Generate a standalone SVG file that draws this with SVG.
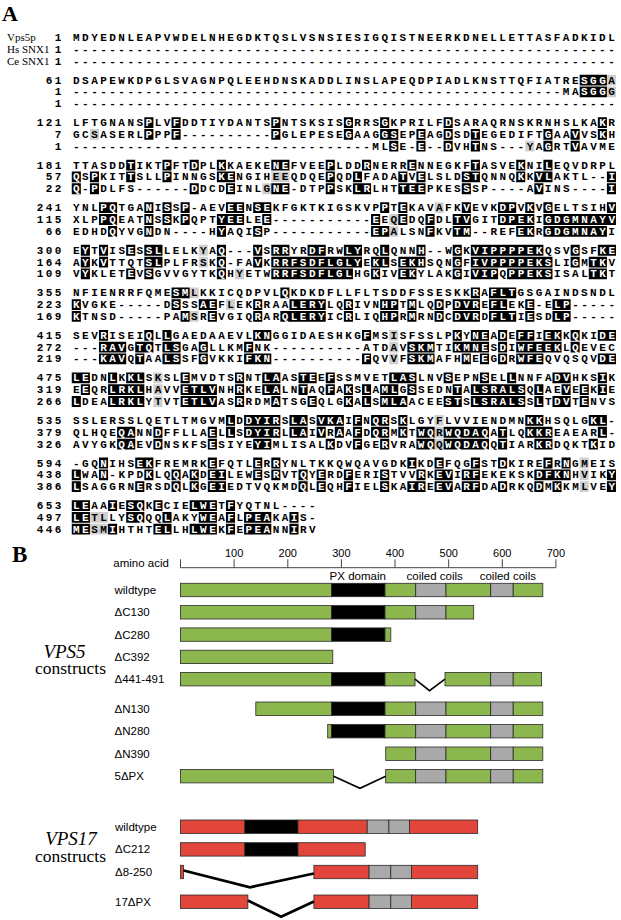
<svg xmlns="http://www.w3.org/2000/svg" width="621" height="920" viewBox="0 0 621 920">
<style>
.s{font-family:"Liberation Mono","DejaVu Sans Mono",monospace;font-weight:bold;font-size:11px;letter-spacing:2.47px;fill:#000}
.w{fill:#fff}
.bs{fill:#000}
.gs{fill:#cfcfcf}
.lb{font-family:"Liberation Serif",serif;font-size:11px;fill:#000}
.big{font-family:"Liberation Serif",serif;font-weight:bold;fill:#000}
.sa{font-family:"Liberation Sans",Arial,sans-serif;font-size:11.5px;fill:#000}
.tk{font-family:"Liberation Sans",Arial,sans-serif;font-size:11px;fill:#000;text-anchor:middle}
.it{font-family:"Liberation Serif",serif;font-style:italic;font-size:19px;text-anchor:middle}
.cn{font-family:"Liberation Serif",serif;font-size:17.5px;text-anchor:middle}
.g{fill:#8cb64e;stroke:#2a2a2a;stroke-width:0.8}
.r{fill:#e2453a;stroke:#2a2a2a;stroke-width:0.8}
.k{fill:#000;stroke:#2a2a2a;stroke-width:0.8}
.y{fill:#a9a9a9;stroke:#2a2a2a;stroke-width:0.8}
.del{fill:none;stroke:#000;stroke-width:1.6}
.del2{fill:none;stroke:#000;stroke-width:2.8}
.rl{stroke:#444;stroke-width:1;fill:none}
</style>
<rect width="621" height="920" fill="#fff"/>
<g id="panelA">
<text class="big" x="2" y="21" font-size="22">A</text>
<g id="blk1" transform="translate(0,41)">
<text class="lb" x="7" y="0">Vps5p</text>
<text class="lb" x="7" y="11.8">Hs SNX1</text>
<text class="lb" x="7" y="23.6">Ce SNX1</text>
<text class="s" x="54.86" y="0">1</text><text class="s" x="54.86" y="11.8">1</text><text class="s" x="54.86" y="23.6">1</text>
<text class="s" x="73" y="0">MDYEDNLEAPVWDELNHEGDKTQSLVSNSIESIGQISTNEERKDNELLETTASFADKIDL</text>
<text class="s" x="73" y="11.8">------------------------------------------------------------</text>
<text class="s" x="73" y="23.6">------------------------------------------------------------</text>
</g>
<g id="blk61" transform="translate(0,83.55)">
<path class="gs" transform="matrix(9.07 0 0 1 71.77 0)" d="M59 -8.9h1v10.8h-1zM59 2.9h1v10.8h-1z"/>
<path class="bs" transform="matrix(9.07 0 0 1 71.77 0)" d="M56 -8.9h3v10.8h-3zM56 2.9h3v10.8h-3z"/>
<text class="s" x="45.79" y="0">61</text><text class="s" x="54.86" y="11.8">1</text><text class="s" x="54.86" y="23.6">1</text>
<text class="s" x="73" y="0">DSAPEWKDPGLSVAGNPQLEEHDNSKADDLINSLAPEQDPIADLKNSTTQFIATRE<tspan class="w">SGG</tspan>A</text>
<text class="s" x="73" y="11.8">------------------------------------------------------MA<tspan class="w">SGG</tspan>G</text>
<text class="s" x="73" y="23.6">------------------------------------------------------------</text>
</g>
<g id="blk121" transform="translate(0,126.1)">
<path class="gs" transform="matrix(9.07 0 0 1 71.77 0)" d="M2 2.9h1v10.8h-1zM50 14.7h1v10.8h-1z"/>
<path class="bs" transform="matrix(9.07 0 0 1 71.77 0)" d="M8 -8.9h1v10.8h-1zM11 -8.9h1v10.8h-1zM22 -8.9h1v10.8h-1zM30 -8.9h1v10.8h-1zM34 -8.9h1v10.8h-1zM41 -8.9h1v10.8h-1zM58 -8.9h1v10.8h-1zM8 2.9h1v10.8h-1zM11 2.9h1v10.8h-1zM22 2.9h1v10.8h-1zM30 2.9h1v10.8h-1zM34 2.9h2v10.8h-2zM38 2.9h1v10.8h-1zM41 2.9h1v10.8h-1zM44 2.9h1v10.8h-1zM52 2.9h1v10.8h-1zM55 2.9h1v10.8h-1zM58 2.9h1v10.8h-1zM35 14.7h1v10.8h-1zM38 14.7h1v10.8h-1zM41 14.7h1v10.8h-1zM44 14.7h1v10.8h-1zM52 14.7h1v10.8h-1zM55 14.7h1v10.8h-1z"/>
<text class="s" x="36.72" y="0">121</text><text class="s" x="54.86" y="11.8">7</text><text class="s" x="54.86" y="23.6">1</text>
<text class="s" x="73" y="0">LFTGNANS<tspan class="w">P</tspan>LV<tspan class="w">F</tspan>DDTIYDANTS<tspan class="w">P</tspan>NTSKSIS<tspan class="w">G</tspan>RRS<tspan class="w">G</tspan>KPRILF<tspan class="w">D</tspan>SARAQRNSKRNHSLKA<tspan class="w">K</tspan>R</text>
<text class="s" x="73" y="11.8">GCSASERL<tspan class="w">P</tspan>PP<tspan class="w">F</tspan>----------<tspan class="w">P</tspan>GLEPESE<tspan class="w">G</tspan>AAG<tspan class="w">GS</tspan>EP<tspan class="w">E</tspan>AG<tspan class="w">D</tspan>SD<tspan class="w">T</tspan>EGEDIFT<tspan class="w">G</tspan>AA<tspan class="w">V</tspan>VS<tspan class="w">K</tspan>H</text>
<text class="s" x="73" y="23.6">---------------------------------ML<tspan class="w">S</tspan>E-<tspan class="w">E</tspan>--<tspan class="w">D</tspan>VH<tspan class="w">T</tspan>NS---YA<tspan class="w">G</tspan>RT<tspan class="w">V</tspan>AVME</text>
</g>
<g id="blk181" transform="translate(0,168.65)">
<path class="gs" transform="matrix(9.07 0 0 1 71.77 0)" d="M22 2.9h2v10.8h-2zM21 14.7h1v10.8h-1z"/>
<path class="bs" transform="matrix(9.07 0 0 1 71.77 0)" d="M6 -8.9h1v10.8h-1zM10 -8.9h1v10.8h-1zM13 -8.9h1v10.8h-1zM16 -8.9h1v10.8h-1zM22 -8.9h2v10.8h-2zM28 -8.9h1v10.8h-1zM32 -8.9h1v10.8h-1zM37 -8.9h1v10.8h-1zM44 -8.9h1v10.8h-1zM49 -8.9h1v10.8h-1zM52 -8.9h1v10.8h-1zM0 2.9h1v10.8h-1zM2 2.9h1v10.8h-1zM6 2.9h1v10.8h-1zM10 2.9h1v10.8h-1zM16 2.9h2v10.8h-2zM28 2.9h1v10.8h-1zM31 2.9h1v10.8h-1zM36 2.9h1v10.8h-1zM38 2.9h1v10.8h-1zM43 2.9h2v10.8h-2zM49 2.9h1v10.8h-1zM51 2.9h2v10.8h-2zM59 2.9h1v10.8h-1zM0 14.7h1v10.8h-1zM2 14.7h1v10.8h-1zM13 14.7h1v10.8h-1zM17 14.7h1v10.8h-1zM22 14.7h2v10.8h-2zM28 14.7h1v10.8h-1zM31 14.7h2v10.8h-2zM36 14.7h3v10.8h-3zM43 14.7h1v10.8h-1zM51 14.7h1v10.8h-1zM59 14.7h1v10.8h-1z"/>
<text class="s" x="36.72" y="0">181</text><text class="s" x="45.79" y="11.8">57</text><text class="s" x="45.79" y="23.6">22</text>
<text class="s" x="73" y="0">TTASDD<tspan class="w">T</tspan>IKT<tspan class="w">P</tspan>FT<tspan class="w">D</tspan>PL<tspan class="w">K</tspan>KAEKE<tspan class="w">NE</tspan>FVEE<tspan class="w">P</tspan>LDD<tspan class="w">R</tspan>NERR<tspan class="w">E</tspan>NNEGKF<tspan class="w">T</tspan>ASVE<tspan class="w">K</tspan>NI<tspan class="w">L</tspan>EQVDRPL</text>
<text class="s" x="73" y="11.8"><tspan class="w">Q</tspan>S<tspan class="w">P</tspan>KIT<tspan class="w">T</tspan>SLL<tspan class="w">P</tspan>INNGS<tspan class="w">KE</tspan>NGIHEEQDQE<tspan class="w">P</tspan>QD<tspan class="w">L</tspan>FADA<tspan class="w">T</tspan>V<tspan class="w">E</tspan>LSLD<tspan class="w">ST</tspan>QNNQ<tspan class="w">K</tspan>K<tspan class="w">VL</tspan>AKTL--<tspan class="w">I</tspan></text>
<text class="s" x="73" y="23.6"><tspan class="w">Q</tspan>-<tspan class="w">P</tspan>DLFS------<tspan class="w">D</tspan>DCD<tspan class="w">E</tspan>INLG<tspan class="w">NE</tspan>-DTP<tspan class="w">P</tspan>SK<tspan class="w">LR</tspan>LHT<tspan class="w">TEE</tspan>PKES<tspan class="w">S</tspan>SP----A<tspan class="w">V</tspan>INS----<tspan class="w">I</tspan></text>
</g>
<g id="blk241" transform="translate(0,211.2)">
<path class="gs" transform="matrix(9.07 0 0 1 71.77 0)" d="M40 -8.9h1v10.8h-1zM35 2.9h1v10.8h-1zM35 14.7h1v10.8h-1z"/>
<path class="bs" transform="matrix(9.07 0 0 1 71.77 0)" d="M3 -8.9h2v10.8h-2zM8 -8.9h1v10.8h-1zM10 -8.9h1v10.8h-1zM12 -8.9h1v10.8h-1zM17 -8.9h2v10.8h-2zM20 -8.9h2v10.8h-2zM34 -8.9h1v10.8h-1zM36 -8.9h1v10.8h-1zM43 -8.9h1v10.8h-1zM47 -8.9h2v10.8h-2zM50 -8.9h1v10.8h-1zM52 -8.9h1v10.8h-1zM59 -8.9h1v10.8h-1zM3 2.9h2v10.8h-2zM8 2.9h1v10.8h-1zM10 2.9h1v10.8h-1zM12 2.9h1v10.8h-1zM16 2.9h3v10.8h-3zM21 2.9h1v10.8h-1zM33 2.9h1v10.8h-1zM36 2.9h1v10.8h-1zM39 2.9h1v10.8h-1zM42 2.9h2v10.8h-2zM47 2.9h4v10.8h-4zM52 2.9h8v10.8h-8zM4 14.7h1v10.8h-1zM8 14.7h1v10.8h-1zM16 14.7h1v10.8h-1zM20 14.7h1v10.8h-1zM33 14.7h2v10.8h-2zM39 14.7h1v10.8h-1zM42 14.7h2v10.8h-2zM49 14.7h2v10.8h-2zM52 14.7h7v10.8h-7z"/>
<text class="s" x="36.72" y="0">241</text><text class="s" x="36.72" y="11.8">115</text><text class="s" x="45.79" y="23.6">66</text>
<text class="s" x="73" y="0">YNL<tspan class="w">PQ</tspan>TGA<tspan class="w">N</tspan>I<tspan class="w">S</tspan>S<tspan class="w">P</tspan>-AEV<tspan class="w">EE</tspan>N<tspan class="w">SE</tspan>KFGKTKIGSKVP<tspan class="w">P</tspan>T<tspan class="w">E</tspan>KAVAFK<tspan class="w">V</tspan>EVK<tspan class="w">DP</tspan>V<tspan class="w">K</tspan>V<tspan class="w">G</tspan>ELTSIH<tspan class="w">V</tspan></text>
<text class="s" x="73" y="11.8">XLP<tspan class="w">PQ</tspan>EAT<tspan class="w">N</tspan>S<tspan class="w">S</tspan>K<tspan class="w">P</tspan>QPT<tspan class="w">YEE</tspan>LE<tspan class="w">E</tspan>-----------<tspan class="w">E</tspan>EQ<tspan class="w">E</tspan>DQ<tspan class="w">F</tspan>DL<tspan class="w">TV</tspan>GIT<tspan class="w">DPEK</tspan>I<tspan class="w">GDGMNAYV</tspan></text>
<text class="s" x="73" y="23.6">EDHD<tspan class="w">Q</tspan>YVG<tspan class="w">N</tspan>DN----H<tspan class="w">Y</tspan>AQI<tspan class="w">S</tspan>P-----------<tspan class="w">EP</tspan>ALSN<tspan class="w">F</tspan>KV<tspan class="w">TM</tspan>--REF<tspan class="w">EK</tspan>R<tspan class="w">GDGMNAY</tspan>I</text>
</g>
<g id="blk300" transform="translate(0,253.75)">
<path class="gs" transform="matrix(9.07 0 0 1 71.77 0)" d="M14 -8.9h1v10.8h-1zM14 2.9h1v10.8h-1zM18 14.7h1v10.8h-1z"/>
<path class="bs" transform="matrix(9.07 0 0 1 71.77 0)" d="M1 -8.9h1v10.8h-1zM3 -8.9h1v10.8h-1zM6 -8.9h1v10.8h-1zM8 -8.9h2v10.8h-2zM16 -8.9h1v10.8h-1zM20 -8.9h1v10.8h-1zM22 -8.9h2v10.8h-2zM26 -8.9h2v10.8h-2zM30 -8.9h2v10.8h-2zM34 -8.9h1v10.8h-1zM38 -8.9h1v10.8h-1zM42 -8.9h1v10.8h-1zM44 -8.9h8v10.8h-8zM55 -8.9h1v10.8h-1zM58 -8.9h2v10.8h-2zM1 2.9h1v10.8h-1zM3 2.9h1v10.8h-1zM8 2.9h2v10.8h-2zM16 2.9h1v10.8h-1zM20 2.9h1v10.8h-1zM22 2.9h10v10.8h-10zM33 2.9h2v10.8h-2zM36 2.9h3v10.8h-3zM42 2.9h1v10.8h-1zM44 2.9h9v10.8h-9zM55 2.9h1v10.8h-1zM57 2.9h2v10.8h-2zM1 14.7h1v10.8h-1zM6 14.7h1v10.8h-1zM8 14.7h1v10.8h-1zM16 14.7h1v10.8h-1zM22 14.7h9v10.8h-9zM33 14.7h1v10.8h-1zM36 14.7h2v10.8h-2zM42 14.7h1v10.8h-1zM44 14.7h3v10.8h-3zM48 14.7h5v10.8h-5zM57 14.7h2v10.8h-2z"/>
<text class="s" x="36.72" y="0">300</text><text class="s" x="36.72" y="11.8">164</text><text class="s" x="36.72" y="23.6">109</text>
<text class="s" x="73" y="0">E<tspan class="w">Y</tspan>T<tspan class="w">V</tspan>IS<tspan class="w">E</tspan>S<tspan class="w">SL</tspan>LELKYA<tspan class="w">Q</tspan>---<tspan class="w">V</tspan>S<tspan class="w">RR</tspan>YR<tspan class="w">DF</tspan>RW<tspan class="w">LY</tspan>RQ<tspan class="w">L</tspan>QNN<tspan class="w">H</tspan>--W<tspan class="w">G</tspan>K<tspan class="w">VIPPPPEK</tspan>QSV<tspan class="w">G</tspan>SF<tspan class="w">KE</tspan></text>
<text class="s" x="73" y="11.8">A<tspan class="w">Y</tspan>K<tspan class="w">V</tspan>TTQT<tspan class="w">SL</tspan>PLFRSK<tspan class="w">Q</tspan>-FA<tspan class="w">V</tspan>K<tspan class="w">RRFSDFLGLY</tspan>E<tspan class="w">KL</tspan>S<tspan class="w">EKH</tspan>SQN<tspan class="w">G</tspan>F<tspan class="w">IVPPPPEKS</tspan>LI<tspan class="w">G</tspan>M<tspan class="w">TK</tspan>V</text>
<text class="s" x="73" y="23.6">V<tspan class="w">Y</tspan>KLET<tspan class="w">E</tspan>V<tspan class="w">S</tspan>GVVGYTK<tspan class="w">Q</tspan>HYETW<tspan class="w">RRFSDFLGL</tspan>HG<tspan class="w">K</tspan>IV<tspan class="w">EK</tspan>YLAK<tspan class="w">G</tspan>I<tspan class="w">VIP</tspan>Q<tspan class="w">PPEKS</tspan>ISAL<tspan class="w">TK</tspan>T</text>
</g>
<g id="blk355" transform="translate(0,296.3)">
<path class="gs" transform="matrix(9.07 0 0 1 71.77 0)" d="M13 -8.9h1v10.8h-1zM17 2.9h1v10.8h-1zM13 14.7h1v10.8h-1z"/>
<path class="bs" transform="matrix(9.07 0 0 1 71.77 0)" d="M11 -8.9h2v10.8h-2zM23 -8.9h1v10.8h-1zM44 -8.9h1v10.8h-1zM46 -8.9h3v10.8h-3zM0 2.9h1v10.8h-1zM11 2.9h1v10.8h-1zM14 2.9h2v10.8h-2zM20 2.9h1v10.8h-1zM24 2.9h4v10.8h-4zM30 2.9h1v10.8h-1zM34 2.9h2v10.8h-2zM37 2.9h1v10.8h-1zM40 2.9h1v10.8h-1zM42 2.9h3v10.8h-3zM46 2.9h2v10.8h-2zM50 2.9h1v10.8h-1zM53 2.9h2v10.8h-2zM0 14.7h1v10.8h-1zM12 14.7h1v10.8h-1zM15 14.7h1v10.8h-1zM20 14.7h1v10.8h-1zM23 14.7h5v10.8h-5zM30 14.7h1v10.8h-1zM34 14.7h2v10.8h-2zM37 14.7h1v10.8h-1zM40 14.7h1v10.8h-1zM42 14.7h3v10.8h-3zM46 14.7h3v10.8h-3zM50 14.7h1v10.8h-1zM53 14.7h2v10.8h-2z"/>
<text class="s" x="36.72" y="0">355</text><text class="s" x="36.72" y="11.8">223</text><text class="s" x="36.72" y="23.6">169</text>
<text class="s" x="73" y="0">NFIENRRFQME<tspan class="w">SM</tspan>LKKICQDPVL<tspan class="w">Q</tspan>KDKDFLLFLTSDDFSSESKK<tspan class="w">R</tspan>A<tspan class="w">FLT</tspan>GSGAINDSNDL</text>
<text class="s" x="73" y="11.8"><tspan class="w">K</tspan>VGKE-----D<tspan class="w">S</tspan>SS<tspan class="w">AE</tspan>FLEK<tspan class="w">R</tspan>RAA<tspan class="w">LERY</tspan>LQ<tspan class="w">R</tspan>IVN<tspan class="w">HP</tspan>T<tspan class="w">M</tspan>LQ<tspan class="w">D</tspan>P<tspan class="w">DVR</tspan>E<tspan class="w">FL</tspan>EK<tspan class="w">E</tspan>-E<tspan class="w">LP</tspan>-----</text>
<text class="s" x="73" y="23.6"><tspan class="w">K</tspan>TNSD-----PA<tspan class="w">M</tspan>SR<tspan class="w">E</tspan>VGIQ<tspan class="w">R</tspan>AR<tspan class="w">QLERY</tspan>IC<tspan class="w">R</tspan>LIQ<tspan class="w">HP</tspan>R<tspan class="w">M</tspan>RN<tspan class="w">D</tspan>C<tspan class="w">DVR</tspan>D<tspan class="w">FLT</tspan>I<tspan class="w">E</tspan>SD<tspan class="w">LP</tspan>-----</text>
</g>
<g id="blk415" transform="translate(0,338.85)">
<path class="gs" transform="matrix(9.07 0 0 1 71.77 0)" d="M35 -8.9h1v10.8h-1zM35 2.9h1v10.8h-1zM35 14.7h1v10.8h-1z"/>
<path class="bs" transform="matrix(9.07 0 0 1 71.77 0)" d="M3 -8.9h1v10.8h-1zM8 -8.9h1v10.8h-1zM10 -8.9h1v10.8h-1zM20 -8.9h2v10.8h-2zM32 -8.9h1v10.8h-1zM42 -8.9h1v10.8h-1zM44 -8.9h2v10.8h-2zM47 -8.9h1v10.8h-1zM49 -8.9h2v10.8h-2zM52 -8.9h2v10.8h-2zM55 -8.9h1v10.8h-1zM58 -8.9h2v10.8h-2zM3 2.9h3v10.8h-3zM7 2.9h2v10.8h-2zM10 2.9h2v10.8h-2zM14 2.9h1v10.8h-1zM19 2.9h1v10.8h-1zM37 2.9h3v10.8h-3zM42 2.9h4v10.8h-4zM47 2.9h1v10.8h-1zM49 2.9h5v10.8h-5zM55 2.9h1v10.8h-1zM3 14.7h3v10.8h-3zM7 14.7h1v10.8h-1zM10 14.7h2v10.8h-2zM14 14.7h1v10.8h-1zM19 14.7h3v10.8h-3zM32 14.7h1v10.8h-1zM37 14.7h3v10.8h-3zM43 14.7h1v10.8h-1zM45 14.7h1v10.8h-1zM47 14.7h1v10.8h-1zM49 14.7h3v10.8h-3zM58 14.7h2v10.8h-2z"/>
<text class="s" x="36.72" y="0">415</text><text class="s" x="36.72" y="11.8">272</text><text class="s" x="36.72" y="23.6">219</text>
<text class="s" x="73" y="0">SEV<tspan class="w">R</tspan>ISEI<tspan class="w">Q</tspan>L<tspan class="w">L</tspan>GAEDAAEVL<tspan class="w">KN</tspan>GGIDAESHKG<tspan class="w">F</tspan>MSISFSSLP<tspan class="w">K</tspan>Y<tspan class="w">NE</tspan>A<tspan class="w">D</tspan>E<tspan class="w">FF</tspan>I<tspan class="w">EK</tspan>K<tspan class="w">Q</tspan>KI<tspan class="w">DE</tspan></text>
<text class="s" x="73" y="11.8">---<tspan class="w">RAV</tspan>G<tspan class="w">TQ</tspan>T<tspan class="w">LS</tspan>GA<tspan class="w">G</tspan>LLKM<tspan class="w">F</tspan>NK----------ATDAV<tspan class="w">SKM</tspan>TI<tspan class="w">KMNE</tspan>S<tspan class="w">D</tspan>I<tspan class="w">WFEEK</tspan>L<tspan class="w">Q</tspan>EVEC</text>
<text class="s" x="73" y="23.6">---<tspan class="w">KAV</tspan>Q<tspan class="w">T</tspan>AA<tspan class="w">LS</tspan>SF<tspan class="w">G</tspan>VKKI<tspan class="w">FKN</tspan>----------<tspan class="w">F</tspan>QVVF<tspan class="w">SKM</tspan>AFH<tspan class="w">M</tspan>E<tspan class="w">E</tspan>G<tspan class="w">D</tspan>R<tspan class="w">WFE</tspan>QVQSQV<tspan class="w">DE</tspan></text>
</g>
<g id="blk475" transform="translate(0,381.4)">
<path class="gs" transform="matrix(9.07 0 0 1 71.77 0)" d="M9 -8.9h1v10.8h-1zM9 2.9h1v10.8h-1zM9 14.7h1v10.8h-1z"/>
<path class="bs" transform="matrix(9.07 0 0 1 71.77 0)" d="M0 -8.9h2v10.8h-2zM4 -8.9h1v10.8h-1zM6 -8.9h2v10.8h-2zM12 -8.9h1v10.8h-1zM18 -8.9h1v10.8h-1zM21 -8.9h2v10.8h-2zM25 -8.9h2v10.8h-2zM28 -8.9h1v10.8h-1zM35 -8.9h3v10.8h-3zM41 -8.9h1v10.8h-1zM45 -8.9h1v10.8h-1zM48 -8.9h1v10.8h-1zM53 -8.9h2v10.8h-2zM58 -8.9h1v10.8h-1zM1 2.9h1v10.8h-1zM4 2.9h4v10.8h-4zM12 2.9h4v10.8h-4zM18 2.9h1v10.8h-1zM21 2.9h2v10.8h-2zM25 2.9h1v10.8h-1zM28 2.9h1v10.8h-1zM30 2.9h1v10.8h-1zM32 2.9h1v10.8h-1zM34 2.9h2v10.8h-2zM37 2.9h1v10.8h-1zM42 2.9h1v10.8h-1zM44 2.9h6v10.8h-6zM51 2.9h1v10.8h-1zM54 2.9h1v10.8h-1zM56 2.9h1v10.8h-1zM58 2.9h1v10.8h-1zM0 14.7h1v10.8h-1zM4 14.7h4v10.8h-4zM12 14.7h4v10.8h-4zM18 14.7h1v10.8h-1zM22 14.7h1v10.8h-1zM26 14.7h1v10.8h-1zM30 14.7h1v10.8h-1zM32 14.7h1v10.8h-1zM34 14.7h3v10.8h-3zM41 14.7h2v10.8h-2zM44 14.7h6v10.8h-6zM51 14.7h1v10.8h-1zM53 14.7h2v10.8h-2zM56 14.7h1v10.8h-1z"/>
<text class="s" x="36.72" y="0">475</text><text class="s" x="36.72" y="11.8">319</text><text class="s" x="36.72" y="23.6">266</text>
<text class="s" x="73" y="0"><tspan class="w">LE</tspan>DN<tspan class="w">L</tspan>K<tspan class="w">KL</tspan>SKSL<tspan class="w">E</tspan>MVDTS<tspan class="w">R</tspan>NT<tspan class="w">LA</tspan>AS<tspan class="w">TE</tspan>E<tspan class="w">F</tspan>SSMVET<tspan class="w">LAS</tspan>LNV<tspan class="w">S</tspan>EPN<tspan class="w">S</tspan>EL<tspan class="w">L</tspan>NNFA<tspan class="w">DV</tspan>HKS<tspan class="w">I</tspan>K</text>
<text class="s" x="73" y="11.8">E<tspan class="w">E</tspan>QR<tspan class="w">LRKL</tspan>HAVV<tspan class="w">ETLV</tspan>NH<tspan class="w">R</tspan>KE<tspan class="w">LA</tspan>LN<tspan class="w">T</tspan>AQ<tspan class="w">F</tspan>A<tspan class="w">K</tspan>S<tspan class="w">L</tspan>A<tspan class="w">ML</tspan>G<tspan class="w">S</tspan>SEDN<tspan class="w">T</tspan>A<tspan class="w">LSRALS</tspan>Q<tspan class="w">L</tspan>AE<tspan class="w">V</tspan>E<tspan class="w">E</tspan>K<tspan class="w">I</tspan>E</text>
<text class="s" x="73" y="23.6"><tspan class="w">L</tspan>DEA<tspan class="w">LRKL</tspan>YTVT<tspan class="w">ETLV</tspan>AS<tspan class="w">R</tspan>RDM<tspan class="w">A</tspan>TSG<tspan class="w">E</tspan>QLG<tspan class="w">K</tspan>A<tspan class="w">L</tspan>S<tspan class="w">MLA</tspan>ACEE<tspan class="w">ST</tspan>S<tspan class="w">LSRALS</tspan>S<tspan class="w">L</tspan>T<tspan class="w">DV</tspan>T<tspan class="w">E</tspan>NVS</text>
</g>
<g id="blk535" transform="translate(0,423.95)">
<path class="gs" transform="matrix(9.07 0 0 1 71.77 0)" d="M40 -8.9h1v10.8h-1zM40 2.9h1v10.8h-1zM40 14.7h1v10.8h-1z"/>
<path class="bs" transform="matrix(9.07 0 0 1 71.77 0)" d="M17 -8.9h1v10.8h-1zM19 -8.9h4v10.8h-4zM24 -8.9h2v10.8h-2zM27 -8.9h3v10.8h-3zM31 -8.9h1v10.8h-1zM33 -8.9h2v10.8h-2zM36 -8.9h1v10.8h-1zM50 -8.9h2v10.8h-2zM57 -8.9h2v10.8h-2zM5 2.9h2v10.8h-2zM9 2.9h1v10.8h-1zM15 2.9h1v10.8h-1zM17 2.9h1v10.8h-1zM19 2.9h4v10.8h-4zM24 2.9h2v10.8h-2zM27 2.9h1v10.8h-1zM29 2.9h1v10.8h-1zM31 2.9h1v10.8h-1zM33 2.9h2v10.8h-2zM36 2.9h1v10.8h-1zM38 2.9h2v10.8h-2zM41 2.9h5v10.8h-5zM47 2.9h1v10.8h-1zM50 2.9h3v10.8h-3zM58 2.9h1v10.8h-1zM5 14.7h2v10.8h-2zM9 14.7h1v10.8h-1zM15 14.7h1v10.8h-1zM20 14.7h2v10.8h-2zM28 14.7h1v10.8h-1zM31 14.7h1v10.8h-1zM34 14.7h1v10.8h-1zM38 14.7h2v10.8h-2zM41 14.7h5v10.8h-5zM47 14.7h1v10.8h-1zM51 14.7h2v10.8h-2zM57 14.7h1v10.8h-1z"/>
<text class="s" x="36.72" y="0">535</text><text class="s" x="36.72" y="11.8">379</text><text class="s" x="36.72" y="23.6">326</text>
<text class="s" x="73" y="0">SSLERSSLQETLTMGVM<tspan class="w">L</tspan>D<tspan class="w">DYIR</tspan>S<tspan class="w">LA</tspan>S<tspan class="w">VKA</tspan>I<tspan class="w">F</tspan>N<tspan class="w">QR</tspan>S<tspan class="w">K</tspan>LGYFLVVIENDMN<tspan class="w">KK</tspan>HSQLG<tspan class="w">KL</tspan>-</text>
<text class="s" x="73" y="11.8">QLHQE<tspan class="w">QA</tspan>NN<tspan class="w">D</tspan>FFLLA<tspan class="w">E</tspan>L<tspan class="w">L</tspan>S<tspan class="w">DYIR</tspan>L<tspan class="w">LA</tspan>I<tspan class="w">V</tspan>R<tspan class="w">A</tspan>A<tspan class="w">F</tspan>D<tspan class="w">QR</tspan>M<tspan class="w">K</tspan>T<tspan class="w">WQ</tspan>R<tspan class="w">WQDAQ</tspan>A<tspan class="w">T</tspan>LQ<tspan class="w">KKR</tspan>EAEAR<tspan class="w">L</tspan>-</text>
<text class="s" x="73" y="23.6">AVYGK<tspan class="w">QA</tspan>EV<tspan class="w">D</tspan>NSKFS<tspan class="w">E</tspan>SIYE<tspan class="w">YI</tspan>MLISAL<tspan class="w">K</tspan>DV<tspan class="w">F</tspan>GE<tspan class="w">R</tspan>VRA<tspan class="w">WQ</tspan>Q<tspan class="w">WQDAQ</tspan>Q<tspan class="w">T</tspan>IAR<tspan class="w">KR</tspan>DQKT<tspan class="w">K</tspan>ID</text>
</g>
<g id="blk594" transform="translate(0,466.5)">
<path class="gs" transform="matrix(9.07 0 0 1 71.77 0)" d="M56 -8.9h1v10.8h-1zM56 2.9h1v10.8h-1zM56 14.7h1v10.8h-1z"/>
<path class="bs" transform="matrix(9.07 0 0 1 71.77 0)" d="M3 -8.9h1v10.8h-1zM7 -8.9h2v10.8h-2zM15 -8.9h1v10.8h-1zM20 -8.9h1v10.8h-1zM22 -8.9h1v10.8h-1zM37 -8.9h1v10.8h-1zM40 -8.9h1v10.8h-1zM44 -8.9h1v10.8h-1zM47 -8.9h1v10.8h-1zM52 -8.9h1v10.8h-1zM54 -8.9h1v10.8h-1zM0 2.9h1v10.8h-1zM3 2.9h1v10.8h-1zM8 2.9h1v10.8h-1zM11 2.9h1v10.8h-1zM13 2.9h1v10.8h-1zM15 2.9h2v10.8h-2zM20 2.9h1v10.8h-1zM22 2.9h1v10.8h-1zM25 2.9h1v10.8h-1zM27 2.9h1v10.8h-1zM30 2.9h1v10.8h-1zM34 2.9h1v10.8h-1zM38 2.9h1v10.8h-1zM40 2.9h2v10.8h-2zM43 2.9h2v10.8h-2zM51 2.9h4v10.8h-4zM59 2.9h1v10.8h-1zM0 14.7h1v10.8h-1zM7 14.7h1v10.8h-1zM11 14.7h1v10.8h-1zM13 14.7h1v10.8h-1zM15 14.7h2v10.8h-2zM25 14.7h1v10.8h-1zM27 14.7h1v10.8h-1zM30 14.7h1v10.8h-1zM34 14.7h1v10.8h-1zM37 14.7h2v10.8h-2zM40 14.7h2v10.8h-2zM43 14.7h2v10.8h-2zM47 14.7h1v10.8h-1zM51 14.7h1v10.8h-1zM53 14.7h1v10.8h-1zM59 14.7h1v10.8h-1z"/>
<text class="s" x="36.72" y="0">594</text><text class="s" x="36.72" y="11.8">438</text><text class="s" x="36.72" y="23.6">386</text>
<text class="s" x="73" y="0">-GQ<tspan class="w">N</tspan>IHS<tspan class="w">EK</tspan>FREMRK<tspan class="w">E</tspan>FQTL<tspan class="w">E</tspan>R<tspan class="w">R</tspan>YNLTKKQWQAVGDK<tspan class="w">I</tspan>KD<tspan class="w">E</tspan>FQG<tspan class="w">F</tspan>ST<tspan class="w">D</tspan>KIRE<tspan class="w">F</tspan>R<tspan class="w">N</tspan>GMEIS</text>
<text class="s" x="73" y="11.8"><tspan class="w">L</tspan>WA<tspan class="w">N</tspan>-KPD<tspan class="w">K</tspan>LQ<tspan class="w">Q</tspan>A<tspan class="w">K</tspan>D<tspan class="w">EI</tspan>LEW<tspan class="w">E</tspan>S<tspan class="w">R</tspan>VT<tspan class="w">Q</tspan>Y<tspan class="w">E</tspan>RD<tspan class="w">F</tspan>ERI<tspan class="w">S</tspan>TVV<tspan class="w">R</tspan>K<tspan class="w">EV</tspan>I<tspan class="w">RF</tspan>EKEKSK<tspan class="w">DFKN</tspan>HVIK<tspan class="w">Y</tspan></text>
<text class="s" x="73" y="23.6"><tspan class="w">L</tspan>SAGGRN<tspan class="w">E</tspan>RSD<tspan class="w">Q</tspan>L<tspan class="w">K</tspan>G<tspan class="w">EI</tspan>EDTVQKMD<tspan class="w">Q</tspan>L<tspan class="w">E</tspan>QH<tspan class="w">F</tspan>IEL<tspan class="w">S</tspan>KA<tspan class="w">IR</tspan>E<tspan class="w">EV</tspan>A<tspan class="w">RF</tspan>DA<tspan class="w">D</tspan>RKQ<tspan class="w">D</tspan>M<tspan class="w">K</tspan>KMLVE<tspan class="w">Y</tspan></text>
</g>
<g id="blk653" transform="translate(0,509.05)">
<path class="gs" transform="matrix(9.07 0 0 1 71.77 0)" d="M2 2.9h2v10.8h-2zM2 14.7h2v10.8h-2z"/>
<path class="bs" transform="matrix(9.07 0 0 1 71.77 0)" d="M0 -8.9h2v10.8h-2zM4 -8.9h1v10.8h-1zM6 -8.9h2v10.8h-2zM9 -8.9h1v10.8h-1zM13 -8.9h3v10.8h-3zM17 -8.9h1v10.8h-1zM0 2.9h2v10.8h-2zM6 2.9h2v10.8h-2zM10 2.9h1v10.8h-1zM14 2.9h2v10.8h-2zM17 2.9h1v10.8h-1zM19 2.9h3v10.8h-3zM24 2.9h1v10.8h-1zM0 14.7h2v10.8h-2zM4 14.7h1v10.8h-1zM9 14.7h2v10.8h-2zM13 14.7h3v10.8h-3zM17 14.7h1v10.8h-1zM19 14.7h3v10.8h-3zM24 14.7h1v10.8h-1z"/>
<text class="s" x="36.72" y="0">653</text><text class="s" x="36.72" y="11.8">497</text><text class="s" x="36.72" y="23.6">446</text>
<text class="s" x="73" y="0"><tspan class="w">LE</tspan>AA<tspan class="w">I</tspan>E<tspan class="w">SQ</tspan>K<tspan class="w">E</tspan>CIE<tspan class="w">LWE</tspan>T<tspan class="w">F</tspan>YQTNL----</text>
<text class="s" x="73" y="11.8"><tspan class="w">LE</tspan>TLLY<tspan class="w">SQ</tspan>QQ<tspan class="w">L</tspan>AKY<tspan class="w">WE</tspan>A<tspan class="w">F</tspan>L<tspan class="w">PEA</tspan>KA<tspan class="w">I</tspan>S-</text>
<text class="s" x="73" y="23.6"><tspan class="w">ME</tspan>SM<tspan class="w">I</tspan>HTHT<tspan class="w">EL</tspan>LH<tspan class="w">LWE</tspan>K<tspan class="w">F</tspan>E<tspan class="w">PEA</tspan>NN<tspan class="w">I</tspan>RV</text>
</g>
</g>
<g id="panelB">
<text class="big" x="12" y="561.7" font-size="23">B</text>
<g id="ruler">
<text class="sa" x="113.3" y="567">amino acid</text>
<path class="rl" d="M180.5 567.7H555.9M180.5 559.3V567.7M234.1 559.3V567.7M287.8 559.3V567.7M341.4 559.3V567.7M395 559.3V567.7M448.7 559.3V567.7M502.3 559.3V567.7M555.9 559.3V567.7"/>
<text class="tk" x="234.1" y="557">100</text>
<text class="tk" x="287.8" y="557">200</text>
<text class="tk" x="341.4" y="557">300</text>
<text class="tk" x="395" y="557">400</text>
<text class="tk" x="448.7" y="557">500</text>
<text class="tk" x="502.3" y="557">600</text>
<text class="tk" x="555.9" y="557">700</text>
<text class="sa" x="329.6" y="580">PX domain</text>
<text class="sa" x="406.6" y="580">coiled coils</text>
<text class="sa" x="479.7" y="580">coiled coils</text>
</g>
<g id="vps5-title">
<text class="it" x="64.5" y="658">VPS5</text>
<text class="cn" x="70.5" y="674">constructs</text>
</g>
<g id="vps5-wildtype">
<text class="sa" x="114.5" y="594">wildtype</text>
<rect class="g" x="180.4" y="583.3" width="151.2" height="13.4"/><rect class="k" x="331.6" y="583.3" width="53.4" height="13.4"/><rect class="g" x="385" y="583.3" width="30.7" height="13.4"/><rect class="y" x="415.7" y="583.3" width="30.3" height="13.4"/><rect class="g" x="446" y="583.3" width="44.7" height="13.4"/><rect class="y" x="490.7" y="583.3" width="22.5" height="13.4"/><rect class="g" x="513.2" y="583.3" width="29.6" height="13.4"/>
</g>
<g id="vps5-dC130">
<text class="sa" x="114.5" y="616.3">ΔC130</text>
<rect class="g" x="180.4" y="605.6" width="151.2" height="13.4"/><rect class="k" x="331.6" y="605.6" width="53.4" height="13.4"/><rect class="g" x="385" y="605.6" width="30.7" height="13.4"/><rect class="y" x="415.7" y="605.6" width="30.3" height="13.4"/><rect class="g" x="446" y="605.6" width="27.7" height="13.4"/>
</g>
<g id="vps5-dC280">
<text class="sa" x="114.5" y="638.6">ΔC280</text>
<rect class="g" x="180.4" y="627.9" width="151.2" height="13.4"/><rect class="k" x="331.6" y="627.9" width="53.4" height="13.4"/><rect class="g" x="385" y="627.9" width="5.8" height="13.4"/>
</g>
<g id="vps5-dC392">
<text class="sa" x="114.5" y="660.9">ΔC392</text>
<rect class="g" x="180.4" y="650.2" width="152.4" height="13.4"/>
</g>
<g id="vps5-d441-491">
<text class="sa" x="114.5" y="683.2">Δ441-491</text>
<rect class="g" x="180.4" y="672.5" width="151.2" height="13.4"/><rect class="k" x="331.6" y="672.5" width="53.4" height="13.4"/><rect class="g" x="385" y="672.5" width="30" height="13.4"/><rect class="g" x="445" y="672.5" width="45.7" height="13.4"/><rect class="y" x="490.7" y="672.5" width="22.5" height="13.4"/><rect class="g" x="513.2" y="672.5" width="28.4" height="13.4"/>
</g>
<g id="vps5-dN130">
<text class="sa" x="114.5" y="712.7">ΔN130</text>
<rect class="g" x="255.8" y="702" width="75.8" height="13.4"/><rect class="k" x="331.6" y="702" width="53.4" height="13.4"/><rect class="g" x="385" y="702" width="30.7" height="13.4"/><rect class="y" x="415.7" y="702" width="30.3" height="13.4"/><rect class="g" x="446" y="702" width="44.7" height="13.4"/><rect class="y" x="490.7" y="702" width="22.5" height="13.4"/><rect class="g" x="513.2" y="702" width="29.6" height="13.4"/>
</g>
<g id="vps5-dN280">
<text class="sa" x="114.5" y="735.2">ΔN280</text>
<rect class="g" x="327.7" y="724.5" width="3.9" height="13.4"/><rect class="k" x="331.6" y="724.5" width="53.4" height="13.4"/><rect class="g" x="385" y="724.5" width="30.7" height="13.4"/><rect class="y" x="415.7" y="724.5" width="30.3" height="13.4"/><rect class="g" x="446" y="724.5" width="44.7" height="13.4"/><rect class="y" x="490.7" y="724.5" width="22.5" height="13.4"/><rect class="g" x="513.2" y="724.5" width="29.6" height="13.4"/>
</g>
<g id="vps5-dN390">
<text class="sa" x="114.5" y="757.7">ΔN390</text>
<rect class="g" x="385.7" y="747" width="30" height="13.4"/><rect class="y" x="415.7" y="747" width="30.3" height="13.4"/><rect class="g" x="446" y="747" width="44.7" height="13.4"/><rect class="y" x="490.7" y="747" width="22.5" height="13.4"/><rect class="g" x="513.2" y="747" width="29.6" height="13.4"/>
</g>
<g id="vps5-5dPX">
<text class="sa" x="114.5" y="780.2">5ΔPX</text>
<rect class="g" x="180.4" y="769.5" width="153.2" height="13.4"/><rect class="g" x="385.7" y="769.5" width="30" height="13.4"/><rect class="y" x="415.7" y="769.5" width="30.3" height="13.4"/><rect class="g" x="446" y="769.5" width="44.7" height="13.4"/><rect class="y" x="490.7" y="769.5" width="22.5" height="13.4"/><rect class="g" x="513.2" y="769.5" width="29.6" height="13.4"/>
</g>
<g id="vps17-title">
<text class="it" x="71" y="845">VPS17</text>
<text class="cn" x="70.5" y="862">constructs</text>
</g>
<g id="vps17-wildtype">
<text class="sa" x="115" y="830.7">wildtype</text>
<rect class="r" x="180.4" y="820" width="64.4" height="13.4"/><rect class="k" x="244.8" y="820" width="53.2" height="13.4"/><rect class="r" x="298" y="820" width="69.2" height="13.4"/><rect class="y" x="367.2" y="820" width="21.7" height="13.4"/><rect class="y" x="388.9" y="820" width="20.5" height="13.4"/><rect class="r" x="409.4" y="820" width="68.3" height="13.4"/>
</g>
<g id="vps17-dC212">
<text class="sa" x="115" y="853.4">ΔC212</text>
<rect class="r" x="180.4" y="842.7" width="64.4" height="13.4"/><rect class="k" x="244.8" y="842.7" width="53.2" height="13.4"/><rect class="r" x="298" y="842.7" width="67.2" height="13.4"/>
</g>
<g id="vps17-d8-250">
<text class="sa" x="115" y="876">Δ8-250</text>
<rect class="r" x="180.4" y="865.3" width="3.2" height="13.4"/><rect class="r" x="313.9" y="865.3" width="55.2" height="13.4"/><rect class="y" x="369.1" y="865.3" width="21.7" height="13.4"/><rect class="y" x="390.8" y="865.3" width="20.6" height="13.4"/><rect class="r" x="411.4" y="865.3" width="66.3" height="13.4"/>
</g>
<g id="vps17-17dPX">
<text class="sa" x="115" y="905.7">17ΔPX</text>
<rect class="r" x="180.4" y="895" width="67.5" height="13.4"/><rect class="r" x="313.9" y="895" width="55.2" height="13.4"/><rect class="y" x="369.1" y="895" width="21.7" height="13.4"/><rect class="y" x="390.8" y="895" width="20.6" height="13.4"/><rect class="r" x="411.4" y="895" width="66.3" height="13.4"/>
</g>
<g id="connectors">
<polyline class="del" points="415,679.2 429.5,690.7 445,679.2"/>
<polyline class="del" points="333.6,776.2 360,788.3 385.7,776.2"/>
<polyline class="del2" points="183.6,870.5 250,887.3 313.9,873.5"/>
<polyline class="del2" points="247.9,900.5 281.1,916.7 313.9,901.5"/>
</g>
</g>
</svg>
